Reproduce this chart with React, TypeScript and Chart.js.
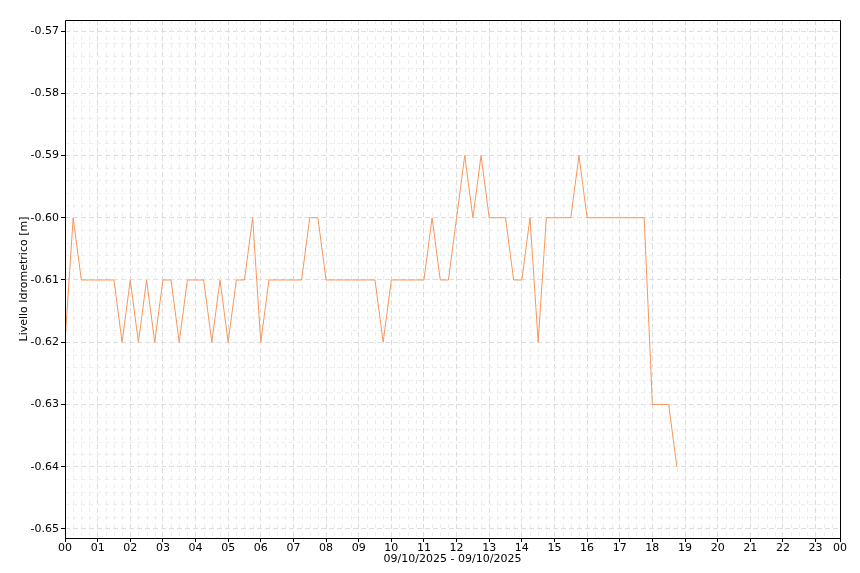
import React, { useEffect, useRef } from 'react';
import { Chart, registerables } from 'chart.js';

Chart.register(...registerables);

// Quarter-hour readings of 09/10/2025 (index 0 = 00:00, step 15 min)
const levels: number[] = [
  -0.62, -0.60, -0.61, -0.61, -0.61, -0.61, -0.61, -0.62, // 00:00 - 01:45
  -0.61, -0.62, -0.61, -0.62, -0.61, -0.61, -0.62, -0.61, // 02:00 - 03:45
  -0.61, -0.61, -0.62, -0.61, -0.62, -0.61, -0.61, -0.60, // 04:00 - 05:45
  -0.62, -0.61, -0.61, -0.61, -0.61, -0.61, -0.60, -0.60, // 06:00 - 07:45
  -0.61, -0.61, -0.61, -0.61, -0.61, -0.61, -0.61, -0.62, // 08:00 - 09:45
  -0.61, -0.61, -0.61, -0.61, -0.61, -0.60, -0.61, -0.61, // 10:00 - 11:45
  -0.60, -0.59, -0.60, -0.59, -0.60, -0.60, -0.60, -0.61, // 12:00 - 13:45
  -0.61, -0.60, -0.62, -0.60, -0.60, -0.60, -0.60, -0.59, // 14:00 - 15:45
  -0.60, -0.60, -0.60, -0.60, -0.60, -0.60, -0.60, -0.60, // 16:00 - 17:45
  -0.63, -0.63, -0.63, -0.64,                             // 18:00 - 18:45
];

const hourLabels: string[] = [
  '00', '01', '02', '03', '04', '05', '06', '07', '08', '09', '10', '11',
  '12', '13', '14', '15', '16', '17', '18', '19', '20', '21', '22', '23', '00',
];

const yTickValues: number[] = [-0.65, -0.64, -0.63, -0.62, -0.61, -0.60, -0.59, -0.58, -0.57];

const X_MAX = 95; // 23:45 (last quarter-hour slot)
const Y_MIN = -0.65145;
const Y_MAX = -0.56823;

const FONT = 'DejaVu Sans';

const minorGridPlugin = {
  id: 'minorGrid',
  beforeDatasetsDraw(chart: any) {
    const { ctx, chartArea, scales } = chart;
    const xs = scales.x;
    const ys = scales.y;
    ctx.save();
    ctx.beginPath();
    ctx.rect(chartArea.left, chartArea.top, chartArea.right - chartArea.left, chartArea.bottom - chartArea.top);
    ctx.clip();
    ctx.strokeStyle = '#ededed';
    ctx.lineWidth = 1;
    ctx.setLineDash([4, 4]);
    for (let i = 1; i < X_MAX; i++) {
      if (i % 4 === 0) continue;
      const px = Math.round(xs.getPixelForValue(i)) + 0.5;
      ctx.beginPath();
      ctx.moveTo(px, chartArea.top);
      ctx.lineTo(px, chartArea.bottom);
      ctx.stroke();
    }
    for (let k = -330; k <= -280; k++) {
      if (k % 5 === 0) continue;
      const v = k * 0.002;
      if (v < Y_MIN || v > Y_MAX) continue;
      const py = Math.round(ys.getPixelForValue(v)) + 0.5;
      ctx.beginPath();
      ctx.moveTo(chartArea.left, py);
      ctx.lineTo(chartArea.right, py);
      ctx.stroke();
    }
    ctx.restore();
  },
  afterDraw(chart: any) {
    const { ctx, chartArea } = chart;
    ctx.save();
    ctx.strokeStyle = '#000';
    ctx.lineWidth = 1;
    ctx.setLineDash([]);
    const l = Math.round(chartArea.left) + 0.5;
    const r = Math.round(chartArea.right) + 0.5;
    const t = Math.round(chartArea.top) + 0.5;
    const b = Math.round(chartArea.bottom) + 0.5;
    ctx.beginPath();
    ctx.moveTo(l, t);
    ctx.lineTo(r, t);
    ctx.lineTo(r, b);
    ctx.lineTo(l, b);
    ctx.closePath();
    ctx.stroke();
    ctx.restore();
  },
};

export default function App() {
  const canvasRef = useRef<HTMLCanvasElement | null>(null);

  useEffect(() => {
    document.body.style.margin = '0';
    const canvas = canvasRef.current;
    if (!canvas) return;
    const points = levels.map((v, i) => ({ x: i, y: v }));
    const chart = new Chart(canvas, {
      type: 'line',
      data: {
        datasets: [
          {
            label: 'Livello Idrometrico',
            data: points,
            borderColor: 'rgb(247,150,90)',
            backgroundColor: 'rgb(247,150,90)',
            borderWidth: 1,
            pointRadius: 0,
            tension: 0,
            fill: false,
          },
        ],
      },
      options: {
        animation: false,
        responsive: false,
        maintainAspectRatio: false,
        devicePixelRatio: 1,
        layout: { padding: { top: 20, right: 20, left: 0, bottom: 0 } },
        plugins: {
          legend: { display: false },
          tooltip: { enabled: false },
        },
        scales: {
          x: {
            type: 'linear',
            min: 0,
            max: X_MAX,
            afterBuildTicks: (scale: any) => {
              const t: any[] = [];
              for (let h = 0; h < 24; h++) t.push({ value: h * 4 });
              t.push({ value: X_MAX });
              scale.ticks = t;
            },
            afterFit: (scale: any) => {
              scale.height = 35;
            },
            ticks: {
              autoSkip: false,
              maxRotation: 0,
              padding: 0,
              color: '#000',
              font: { family: FONT, size: 11 },
              callback: (value: any) => {
                const v = Number(value);
                if (v === X_MAX) return hourLabels[24];
                return hourLabels[Math.round(v / 4)];
              },
            },
            grid: {
              color: '#dcdcdc',
              lineWidth: 1,
              tickLength: 4,
              tickColor: '#000',
              tickBorderDash: [],
            },
            border: { display: false, dash: [5, 3] },
            title: {
              display: true,
              text: '09/10/2025 - 09/10/2025',
              color: '#000',
              font: { family: FONT, size: 11 },
              padding: { top: 0, bottom: 7 },
            },
          },
          y: {
            type: 'linear',
            min: Y_MIN,
            max: Y_MAX,
            afterBuildTicks: (scale: any) => {
              scale.ticks = yTickValues.map((v) => ({ value: v }));
            },
            afterFit: (scale: any) => {
              scale.width = 65;
            },
            ticks: {
              autoSkip: false,
              padding: 2,
              color: '#000',
              font: { family: FONT, size: 11 },
              callback: (value: any) => Number(value).toFixed(2),
            },
            grid: {
              color: '#dcdcdc',
              lineWidth: 1,
              tickLength: 4,
              tickColor: '#000',
              tickBorderDash: [],
            },
            border: { display: false, dash: [5, 3] },
            title: {
              display: true,
              text: 'Livello Idrometrico [m]',
              color: '#000',
              font: { family: FONT, size: 11 },
              padding: { top: 18, bottom: 0 },
            },
          },
        },
      },
      plugins: [minorGridPlugin],
    });
    return () => chart.destroy();
  }, []);

  return (
    <div style={{ position: 'absolute', left: 0, top: 0, width: 860, height: 573 }}>
      <canvas ref={canvasRef} width={860} height={573} style={{ width: 860, height: 573 }} />
    </div>
  );
}
